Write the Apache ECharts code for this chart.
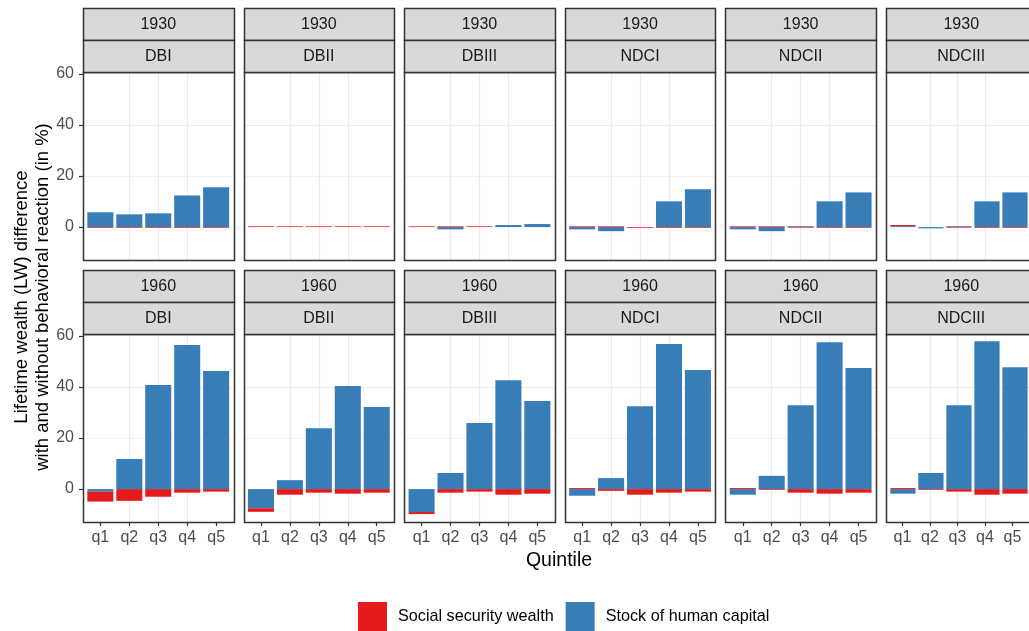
<!DOCTYPE html>
<html>
<head>
<meta charset="utf-8">
<script src="https://cdn.jsdelivr.net/npm/echarts@6/dist/echarts.min.js"></script>
<style>
  html, body { margin: 0; padding: 0; background: #ffffff; }
  #chart { width: 1029px; height: 631px; }
</style>
</head>
<body>
<div id="chart"></div>
<script>
// Lifetime wealth difference with and without behavioural reaction, by cohort,
// pension scheme and income quintile (in %).
const cohorts = ['1930', '1960'];
const schemes = ['DBI', 'DBII', 'DBIII', 'NDCI', 'NDCII', 'NDCIII'];
const quintiles = ['q1', 'q2', 'q3', 'q4', 'q5'];
const componentNames = ['Social security wealth', 'Stock of human capital'];

// Social security wealth component, one row per scheme (q1..q5)
const ssw1930 = [
  [-0.3, -0.3, -0.3, -0.3, -0.3],
  [0.3, 0.3, 0.3, 0.3, 0.3],
  [0.3, 0.3, 0.3, 0, 0],
  [0.3, 0.3, -0.3, -0.3, -0.3],
  [0.3, 0.3, 0.3, -0.3, -0.3],
  [0.4, 0, 0.3, -0.3, -0.3]
];
const ssw1960 = [
  [-3.9, -4.6, -3.0, -1.4, -1.0],
  [-1.4, -2.2, -1.4, -1.8, -1.4],
  [-0.8, -1.4, -1.0, -2.2, -1.8],
  [0.4, -0.7, -2.2, -1.4, -1.0],
  [0.4, -0.3, -1.4, -1.8, -1.4],
  [0.4, -0.3, -1.0, -2.2, -1.8]
];

// Stock of human capital component, one row per scheme (q1..q5)
const hc1930 = [
  [5.8, 5.0, 5.4, 12.4, 15.6],
  [0, 0, 0, 0, 0],
  [0, -0.9, 0, 0.8, 1.2],
  [-0.9, -1.6, 0, 10.1, 14.8],
  [-0.9, -1.6, -0.3, 10.1, 13.6],
  [0.4, -0.5, -0.3, 10.1, 13.6]
];
const hc1960 = [
  [-1.0, 11.8, 40.8, 56.5, 46.3],
  [-7.5, 3.5, 23.9, 40.4, 32.2],
  [-9.0, 6.3, 25.9, 42.7, 34.5],
  [-2.6, 4.3, 32.5, 56.9, 46.7],
  [-2.2, 5.2, 32.9, 57.6, 47.5],
  [-1.8, 6.3, 32.9, 58.0, 47.8]
];

const yTickValues = [0, 20, 40, 60];

const sswByCohort = [ssw1930, ssw1960];
const hcByCohort = [hc1930, hc1960];

// Panel layout (pixels)
const FONT = '"Liberation Sans", Arial, Helvetica, sans-serif';
const panelLeft0 = 83;
const panelStride = 160.6;
const panelWidth = 150.5;
const panelHeight = 188;
const panelTops = [72, 334];
const stripHeight = 32;
const yMin = -12.9, yMax = 60.8;
// discrete x scale: five slots plus 0.6 slot of padding on each side
const xMin = 0.4, xMax = 5.6;
const slotPx = panelWidth / (xMax - xMin);
const TEXT_SIZE = 16;
const FRAME = '#333333';

const RED = '#E41A1C', BLUE = '#377EB8';

const frameGrids = [], frameX = [], frameY = [];
const barGrids = [], barX = [], barY = [];
const series = [], graphics = [];
const nPanels = cohorts.length * schemes.length;

// outline box drawn above the gridlines
function outlineBox(x, y, w, h, fill) {
  const x0 = Math.round(x) + 0.5, y0 = Math.round(y) + 0.5;
  const x1 = Math.round(x + w) + 0.5, y1 = Math.round(y + h) + 0.5;
  return {
    type: 'rect', z: 10, silent: true,
    shape: { x: x0, y: y0, width: x1 - x0, height: y1 - y0 },
    style: { fill: fill, stroke: FRAME, lineWidth: 1.5 }
  };
}

cohorts.forEach((cohort, r) => {
  schemes.forEach((scheme, c) => {
    const idx = r * schemes.length + c;
    const left = panelLeft0 + c * panelStride;
    const top = panelTops[r];

    // Frame grid: gridlines, ticks and tick labels
    frameGrids.push({
      left: left, top: top, width: panelWidth, height: panelHeight,
      show: false, containLabel: false
    });
    frameX.push({
      type: 'value', gridIndex: idx, min: xMin, max: xMax, splitNumber: 5,
      axisLine: { show: false, onZero: false },
      axisTick: {
        show: r === cohorts.length - 1, customValues: [1, 2, 3, 4, 5],
        length: 4, lineStyle: { color: FRAME, width: 1.2 }
      },
      axisLabel: {
        show: r === cohorts.length - 1, customValues: [1, 2, 3, 4, 5],
        formatter: v => quintiles[Math.round(v) - 1] || '',
        color: '#4D4D4D', fontSize: TEXT_SIZE, fontFamily: FONT, margin: 8
      },
      splitLine: { show: true, showMinLine: false, showMaxLine: false,
        lineStyle: { color: '#EBEBEB', width: 1.2 } }
    });
    frameY.push({
      type: 'value', gridIndex: idx, min: yMin, max: yMax, splitNumber: 7,
      axisLine: { show: false, onZero: false },
      axisTick: {
        show: c === 0, customValues: yTickValues,
        length: 4, lineStyle: { color: FRAME, width: 1.2 }
      },
      axisLabel: {
        show: c === 0, customValues: yTickValues,
        color: '#4D4D4D', fontSize: TEXT_SIZE, fontFamily: FONT, margin: 9
      },
      splitLine: { show: true, showMinLine: false, showMaxLine: false,
        lineStyle: { color: ['#F1F1F1', '#EBEBEB'], width: 1.2 } }
    });

    // Bar grid: the five category slots inside the side padding
    const inner = nPanels + idx;
    barGrids.push({
      left: left + (1 - xMin - 0.5) * slotPx, top: top,
      width: quintiles.length * slotPx, height: panelHeight,
      show: false, containLabel: false
    });
    barX.push({
      type: 'category', gridIndex: inner, data: quintiles, show: false,
      axisLine: { onZero: false }
    });
    barY.push({
      type: 'value', gridIndex: inner, min: yMin, max: yMax, show: false,
      splitLine: { show: false }
    });

    const hcVals = hcByCohort[r][c];
    const sswVals = sswByCohort[r][c];
    // Human capital sits next to zero, social security wealth is stacked outside it
    series.push({
      name: componentNames[1], type: 'bar', stack: 'panel' + idx,
      xAxisIndex: inner, yAxisIndex: inner, barWidth: '90%',
      itemStyle: { color: BLUE }, z: 3,
      data: hcVals.slice()
    });
    series.push({
      name: componentNames[0], type: 'bar', stack: 'panel' + idx,
      xAxisIndex: inner, yAxisIndex: inner, barWidth: '90%',
      itemStyle: { color: RED }, z: 3,
      data: sswVals.slice()
    });

    // Panel border
    graphics.push(outlineBox(left, top, panelWidth, panelHeight, 'none'));

    // Facet strips: cohort above scheme
    [cohort, scheme].forEach((label, k) => {
      const sy = top - stripHeight * (2 - k);
      graphics.push(outlineBox(left, sy, panelWidth, stripHeight, '#D9D9D9'));
      graphics.push({
        type: 'text', z: 11, x: left + panelWidth / 2, y: sy + stripHeight / 2 + 0.5,
        style: { text: label, fill: '#1A1A1A', fontSize: TEXT_SIZE, fontFamily: FONT,
          align: 'center', verticalAlign: 'middle' }
      });
    });
  });
});

// Axis titles
graphics.push({
  type: 'text', z: 11, x: 32.5, y: 297, rotation: Math.PI / 2,
  style: {
    text: 'Lifetime wealth (LW) difference\nwith and without behavioral reaction (in %)',
    fill: '#000000', fontSize: 18.5, lineHeight: 21.5, fontFamily: FONT,
    align: 'center', verticalAlign: 'middle'
  }
});
graphics.push({
  type: 'text', z: 11, x: 559, y: 561,
  style: { text: 'Quintile', fill: '#000000', fontSize: 19.5, fontFamily: FONT,
    align: 'center', verticalAlign: 'middle' }
});

const chart = echarts.init(document.getElementById('chart'), null, { renderer: 'canvas' });
chart.setOption({
  animation: false,
  backgroundColor: '#ffffff',
  grid: frameGrids.concat(barGrids),
  xAxis: frameX.concat(barX),
  yAxis: frameY.concat(barY),
  series: series,
  graphic: graphics,
  legend: {
    data: componentNames,
    left: 358, top: 602, padding: 0,
    itemWidth: 29, itemHeight: 29, itemGap: 12,
    icon: 'rect', selectedMode: false,
    textStyle: { fontSize: 16.2, color: '#000000', fontFamily: FONT, padding: [0, 0, 0, 6] }
  }
});
</script>
</body>
</html>
